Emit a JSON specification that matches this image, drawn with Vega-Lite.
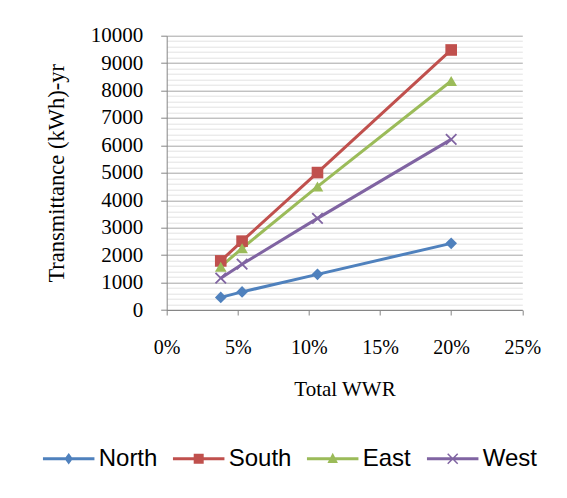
{
  "$schema": "https://vega.github.io/schema/vega-lite/v6.json",
  "width": 355.6,
  "height": 274.3,
  "autosize": {"type": "none"},
  "padding": {"left": 166.7, "top": 35.7, "right": 44.7, "bottom": 188},
  "background": "white",
  "config": {"view": {"stroke": null}, "font": "Times New Roman, Liberation Serif, serif"},
  "data": {
    "values": [
      {"wwr": 0.038, "value": 460, "dir": "North"},
      {"wwr": 0.053, "value": 660, "dir": "North"},
      {"wwr": 0.106, "value": 1300, "dir": "North"},
      {"wwr": 0.2, "value": 2430, "dir": "North"},
      {"wwr": 0.038, "value": 1790, "dir": "South"},
      {"wwr": 0.053, "value": 2510, "dir": "South"},
      {"wwr": 0.106, "value": 5010, "dir": "South"},
      {"wwr": 0.2, "value": 9480, "dir": "South"},
      {"wwr": 0.038, "value": 1580, "dir": "East"},
      {"wwr": 0.053, "value": 2250, "dir": "East"},
      {"wwr": 0.106, "value": 4500, "dir": "East"},
      {"wwr": 0.2, "value": 8350, "dir": "East"},
      {"wwr": 0.038, "value": 1160, "dir": "West"},
      {"wwr": 0.053, "value": 1670, "dir": "West"},
      {"wwr": 0.106, "value": 3340, "dir": "West"},
      {"wwr": 0.2, "value": 6220, "dir": "West"}
    ]
  },
  "encoding": {
    "x": {
      "field": "wwr",
      "type": "quantitative",
      "scale": {"domain": [0, 0.25]},
      "axis": {
        "title": "Total WWR",
        "values": [0, 0.05, 0.1, 0.15, 0.2, 0.25],
        "format": ".0%",
        "grid": false,
        "domainColor": "#868686",
        "tickColor": "#868686",
        "tickSize": 5,
        "labelPadding": 22,
        "labelFlush": false,
        "labelOverlap": false,
        "labelFont": "Times New Roman, Liberation Serif, serif",
        "labelFontSize": 20,
        "labelColor": "#000000",
        "titleFont": "Times New Roman, Liberation Serif, serif",
        "titleFontSize": 21,
        "titleFontWeight": "normal",
        "titleColor": "#000000",
        "titlePadding": 21
      }
    }
  },
  "layer": [
    {
      "mark": {"type": "line", "strokeWidth": 3},
      "encoding": {
        "y": {
          "field": "value",
          "type": "quantitative",
          "scale": {"domain": [0, 10000]},
          "axis": {
            "orient": "right",
            "values": [200, 400, 600, 800, 1200, 1400, 1600, 1800, 2200, 2400, 2600, 2800, 3200, 3400, 3600, 3800, 4200, 4400, 4600, 4800, 5200, 5400, 5600, 5800, 6200, 6400, 6600, 6800, 7200, 7400, 7600, 7800, 8200, 8400, 8600, 8800, 9200, 9400, 9600, 9800],
            "grid": true,
            "gridColor": "#e2e2e2",
            "labels": false,
            "ticks": false,
            "domain": false,
            "title": null
          }
        },
        "color": {
          "field": "dir",
          "type": "nominal",
          "scale": {
            "domain": ["North", "South", "East", "West"],
            "range": ["#4F81BD", "#C0504D", "#9BBB59", "#8064A2"]
          },
          "legend": {
            "orient": "none",
            "legendX": -124,
            "legendY": 397,
            "direction": "horizontal",
            "title": null,
            "labelFont": "Liberation Sans, Arial, sans-serif",
            "labelFontSize": 24,
            "labelColor": "#000000",
            "labelOffset": 4,
            "columnPadding": 13,
            "symbolSize": 2500,
            "symbolStrokeWidth": 1.5,
            "encode": {
              "symbols": {
                "update": {
                  "shape": {"signal": "datum.value === 'North' ? 'M-1,-0.03H1V0.03H-1ZM0,-0.18L0.13,0L0,0.18L-0.13,0Z' : datum.value === 'South' ? 'M-1,-0.03H1V0.03H-1ZM-0.17,-0.17H0.17V0.17H-0.17Z' : datum.value === 'East' ? 'M-1,-0.03H1V0.03H-1ZM0,-0.17L0.16,0.14L-0.16,0.14Z' : 'M-1,-0.03H1V0.03H-1ZM-0.2,-0.2L0.2,0.2M-0.2,0.2L0.2,-0.2'"},
                  "fill": {"signal": "scale('color', datum.value)"},
                  "stroke": {"signal": "scale('color', datum.value)"},
                  "strokeWidth": {"value": 1.5},
                  "opacity": {"value": 1}
                }
              }
            }
          }
        }
      }
    },
    {
      "transform": [{"filter": "datum.dir !== 'West'"}],
      "mark": {"type": "point", "filled": true, "opacity": 1, "size": 135},
      "encoding": {
        "y": {
          "field": "value",
          "type": "quantitative",
          "axis": {
            "orient": "left",
            "title": "Transmittance (kWh)-yr",
            "values": [0, 1000, 2000, 3000, 4000, 5000, 6000, 7000, 8000, 9000, 10000],
            "format": "d",
            "grid": true,
            "gridColor": "#a6a6a6",
            "domainColor": "#868686",
            "tickColor": "#868686",
            "tickSize": 6,
            "labelPadding": 18,
            "labelFlush": false,
            "labelOverlap": false,
            "labelFont": "Times New Roman, Liberation Serif, serif",
            "labelFontSize": 21,
            "labelColor": "#000000",
            "titleFont": "Times New Roman, Liberation Serif, serif",
            "titleFontSize": 22.5,
            "titleFontWeight": "normal",
            "titleColor": "#000000",
            "titlePadding": 22
          }
        },
        "color": {"field": "dir", "type": "nominal", "legend": null},
        "shape": {
          "field": "dir",
          "type": "nominal",
          "scale": {"domain": ["North", "South", "East"], "range": ["diamond", "square", "triangle-up"]},
          "legend": null
        }
      }
    },
    {
      "transform": [{"filter": "datum.dir === 'West'"}],
      "mark": {"type": "point", "shape": "M-1,-1L1,1M-1,1L1,-1", "filled": false, "opacity": 1, "strokeWidth": 1.8, "size": 110},
      "encoding": {
        "y": {"field": "value", "type": "quantitative", "axis": null},
        "color": {"field": "dir", "type": "nominal", "legend": null}
      }
    }
  ],
  "resolve": {"axis": {"y": "independent"}}
}
